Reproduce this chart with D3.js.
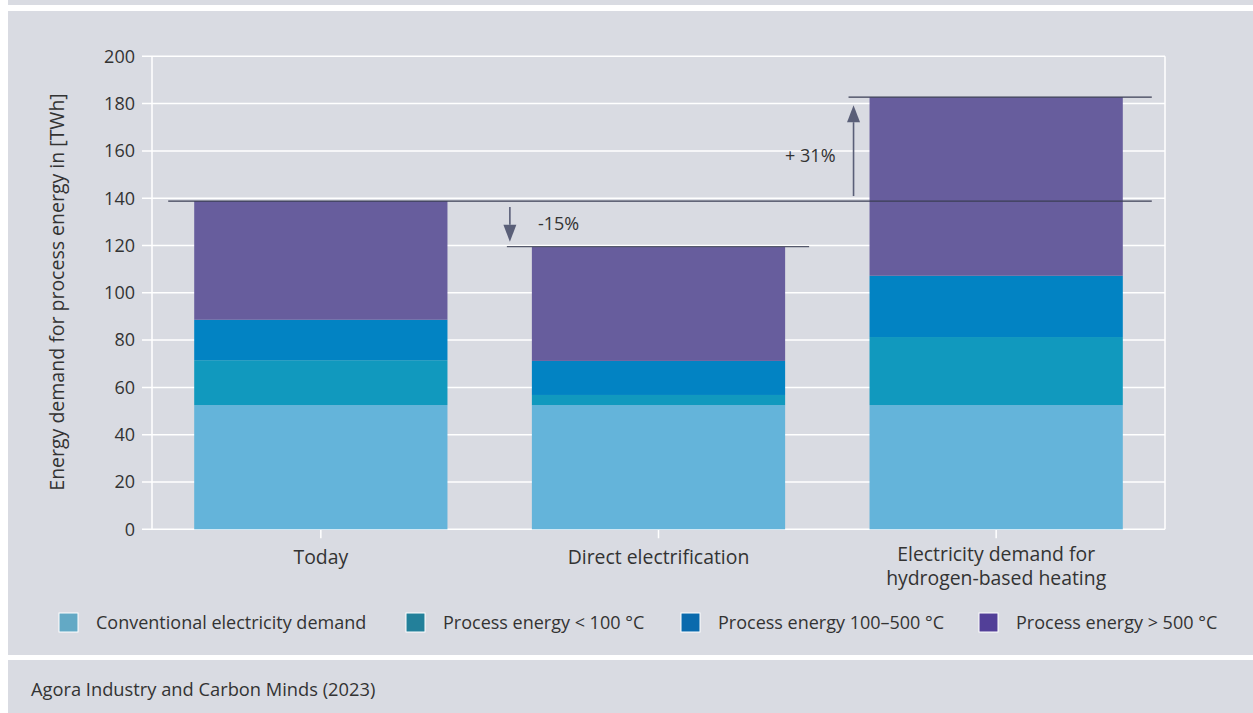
<!DOCTYPE html>
<html><head><meta charset="utf-8">
<script src="https://cdn.jsdelivr.net/npm/d3@7"></script>
<style>
html,body{margin:0;padding:0;background:#fff;}
svg{display:block;}
text{font-family:"Open Sans", Roboto, sans-serif;font-weight:400;fill:#333;}
</style></head>
<body>
<svg id="c" width="1253" height="713"></svg>
<script>
const categories = ["Today", "Direct electrification", "Electricity demand for hydrogen-based heating"];
const categoryLines = [["Today"], ["Direct electrification"], ["Electricity demand for", "hydrogen-based heating"]];
const seriesNames = ["Conventional electricity demand", "Process energy < 100 °C", "Process energy 100–500 °C", "Process energy > 500 °C"];
const conventional = [52.5, 52.5, 52.5];
const below100 = [19.0, 4.3, 28.8];
const from100to500 = [17.1, 14.4, 25.9];
const above500 = [50.2, 48.3, 75.5];
const yTicks = [0, 20, 40, 60, 80, 100, 120, 140, 160, 180, 200];
const changeLabels = ["-15%", "+ 31%"];
const source = "Agora Industry and Carbon Minds (2023)";

const barColors = ["#64b4da", "#1199be", "#0283c3", "#675d9d"];
const legendColors = ["#63a9c5", "#23809a", "#0a6aad", "#523f98"];

const svg = d3.select("#c");
svg.append("rect").attr("x", 8).attr("y", 0).attr("width", 1245).attr("height", 5).attr("fill", "#d9dbe2");
svg.append("rect").attr("x", 8).attr("y", 11).attr("width", 1245).attr("height", 644).attr("fill", "#d9dbe2");
svg.append("rect").attr("x", 8).attr("y", 660).attr("width", 1245).attr("height", 53).attr("fill", "#d9dbe2");

const x0 = 152, x1 = 1165, yTop = 56.3, yBot = 529.3;
const x = d3.scaleBand().domain(categories).range([x0, x1]).paddingInner(0.25).paddingOuter(0.125);
const y = d3.scaleLinear().domain([0, 200]).range([yBot, yTop]);

const g = svg.append("g");
g.selectAll("line.grid").data(yTicks).join("line")
  .attr("x1", x0 - 10).attr("x2", x1).attr("y1", d => y(d)).attr("y2", d => y(d))
  .attr("stroke", "#fff").attr("stroke-width", 1.5);
g.append("line").attr("x1", x0).attr("x2", x0).attr("y1", yTop).attr("y2", yBot).attr("stroke", "#fff").attr("stroke-width", 1.5);
g.append("line").attr("x1", x1).attr("x2", x1).attr("y1", yTop).attr("y2", yBot).attr("stroke", "#fff").attr("stroke-width", 1.5);
g.selectAll("line.ct").data(categories).join("line")
  .attr("x1", d => x(d) + x.bandwidth() / 2).attr("x2", d => x(d) + x.bandwidth() / 2)
  .attr("y1", yBot).attr("y2", yBot + 9).attr("stroke", "#fff").attr("stroke-width", 1.5);
g.selectAll("text.yt").data(yTicks).join("text")
  .attr("x", x0 - 17).attr("y", d => y(d)).attr("dy", "0.35em").attr("text-anchor", "end")
  .attr("font-size", 18).text(d => d);

const rows = categories.map((c, i) => ({cat: c, s0: conventional[i], s1: below100[i], s2: from100to500[i], s3: above500[i]}));
const stack = d3.stack().keys(["s0", "s1", "s2", "s3"])(rows);
svg.append("g").selectAll("g").data(stack).join("g").attr("fill", (d, i) => barColors[i])
  .selectAll("rect").data(d => d).join("rect")
  .attr("x", d => x(d.data.cat)).attr("width", x.bandwidth())
  .attr("y", d => y(d[1])).attr("height", d => y(d[0]) - y(d[1]));

categoryLines.forEach((lines, i) => {
  const cx = x(categories[i]) + x.bandwidth() / 2;
  const t = svg.append("text").attr("text-anchor", "middle").attr("font-size", 19.4);
  lines.forEach((l, j) => {
    t.append("tspan").attr("x", cx).attr("y", (lines.length === 1 ? 564 : 560.5) + j * 24.5).text(l);
  });
});

svg.append("text").attr("transform", `translate(64,292) rotate(-90)`)
  .attr("text-anchor", "middle").attr("font-size", 19.5)
  .text("Energy demand for process energy in [TWh]");

const totals = rows.map(r => r.s0 + r.s1 + r.s2 + r.s3);
const lineCol = "#3a3e55";
const arrowCol = "#5a5f78";
const ann = svg.append("g");
ann.append("line").attr("x1", x(categories[0]) - 26).attr("x2", x(categories[2]) + x.bandwidth() + 29)
  .attr("y1", y(totals[0])).attr("y2", y(totals[0])).attr("stroke", lineCol).attr("stroke-width", 1.3);
ann.append("line").attr("x1", x(categories[1]) - 25).attr("x2", x(categories[1]) + x.bandwidth() + 24)
  .attr("y1", y(totals[1])).attr("y2", y(totals[1])).attr("stroke", "#55596b").attr("stroke-width", 1.3);
ann.append("line").attr("x1", x(categories[2]) - 21).attr("x2", x(categories[2]) + x.bandwidth() + 29)
  .attr("y1", y(totals[2])).attr("y2", y(totals[2])).attr("stroke", lineCol).attr("stroke-width", 1.3);

function arrow(ax, yFrom, yTo) {
  const dir = Math.sign(yTo - yFrom);
  const headLen = 17, headW = 6.5;
  ann.append("line").attr("x1", ax).attr("x2", ax).attr("y1", yFrom).attr("y2", yTo - dir * headLen)
    .attr("stroke", arrowCol).attr("stroke-width", 1.6);
  ann.append("path").attr("d", `M${ax - headW},${yTo - dir * headLen} L${ax + headW},${yTo - dir * headLen} L${ax},${yTo} Z`)
    .attr("fill", arrowCol);
}
const adx = x(categories[1]) - 22;
arrow(adx, y(totals[0]) + 6, y(totals[1]) - 5);
ann.append("text").attr("x", adx + 28).attr("y", (y(totals[0]) + y(totals[1])) / 2).attr("dy", "0.35em")
  .attr("font-size", 18).attr("fill", "#555").text(changeLabels[0]);
const aux = x(categories[2]) - 16;
arrow(aux, y(totals[0]) - 5, y(totals[2]) + 8);
ann.append("text").attr("x", aux - 18).attr("y", 156).attr("dy", "0.35em").attr("text-anchor", "end")
  .attr("font-size", 18).attr("fill", "#555").text(changeLabels[1]);

const legendX = [59, 406, 681, 979];
const lg = svg.append("g");
seriesNames.forEach((n, i) => {
  lg.append("rect").attr("x", legendX[i]).attr("y", 613).attr("width", 19).attr("height", 19)
    .attr("fill", legendColors[i]).attr("stroke", "#fff").attr("stroke-width", 1);
  lg.append("text").attr("x", legendX[i] + 37).attr("y", 623).attr("dy", "0.35em").attr("font-size", 18).text(n);
});

svg.append("text").attr("x", 31).attr("y", 690).attr("dy", "0.35em").attr("font-size", 18.3).text(source);
</script>
</body></html>
